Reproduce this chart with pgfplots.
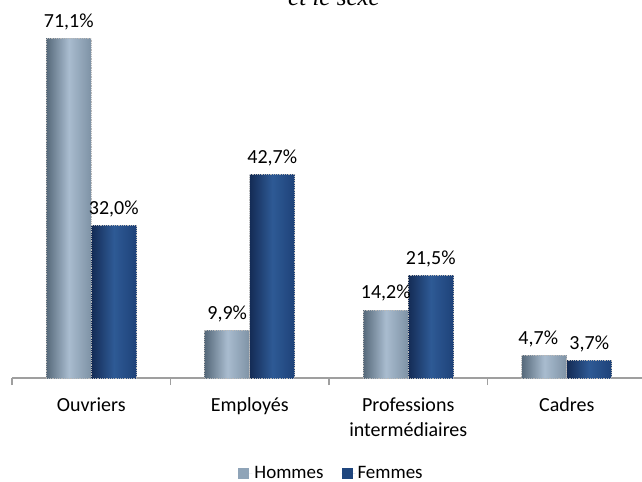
\documentclass[border=0pt]{standalone}
\usepackage{fontspec}
\setmainfont{Carlito}
\newfontfamily\titlefont{Liberation Serif}
\usepackage{pgfplots}
\pgfplotsset{compat=1.18}
\definecolor{hmA}{HTML}{56697A}
\definecolor{hmB}{HTML}{A9BCCF}
\definecolor{hmC}{HTML}{7E92A5}
\definecolor{hmL}{HTML}{8FA4B8}
\definecolor{fmA}{HTML}{142B55}
\definecolor{fmB}{HTML}{2E5A95}
\definecolor{fmC}{HTML}{1E4279}
\definecolor{fmL}{HTML}{1F467E}
\pgfplotsset{
  hom/.style={forget plot, ybar, bar shift=0pt, left color=hmA, right color=hmC, middle color=hmB, draw=gray!55, densely dotted, line width=0.8bp},
  fem/.style={forget plot, ybar, bar shift=0pt, left color=fmA, right color=fmC, middle color=fmB, draw=gray!55, densely dotted, line width=0.8bp},
}
\begin{document}
\begin{tikzpicture}[font=\fontsize{20bp}{25bp}\selectfont]
\begin{axis}[
  at={(12bp,-378bp)}, anchor=south west,
  scale only axis, width=634bp, height=381.6bp,
  xmin=-0.5, xmax=3.5, ymin=0, ymax=80,
  axis y line=none, axis x line*=bottom,
  axis line style={draw=gray!75, line width=1.6bp},
  bar width=45bp,
  xtick={-0.5,0.5,1.5,2.5,3.5}, xticklabels={},
  tick align=outside, major tick length=7bp,
  xtick style={draw=gray!75, line width=1.2bp},
  extra x ticks={0,1,2,3},
  extra x tick labels={Ouvriers,Employés,{Professions\\intermédiaires},Cadres},
  extra x tick style={major tick length=0pt, xtick style={draw=none},
    xticklabel style={align=center, yshift=-16bp, font=\fontsize{20bp}{25bp}\selectfont}},
  nodes near coords={\pgfmathprintnumber[fixed,fixed zerofill,precision=1,use comma,assume math mode=true]{\pgfplotspointmeta}\%},
  every node near coord/.append style={font=\fontsize{20bp}{24bp}\selectfont, yshift=5bp, text=black},
  legend style={at={(0.504,0)}, anchor=center, yshift=-95bp, draw=none, fill=none,
    legend columns=2, /tikz/every even column/.append style={column sep=16bp},
    font=\fontsize{19bp}{23bp}\selectfont},
  legend image code/.code={\fill[#1] (0bp,-5.5bp) rectangle (11bp,5.5bp); \path (0bp,0bp) -- (14bp,0bp);},
]
\addlegendimage{fill=hmL, draw=none}
\addlegendentry{Hommes}
\addlegendimage{fill=fmL, draw=none}
\addlegendentry{Femmes}
% Hommes
\addplot[hom] coordinates {(-0.142,71.1)};
\addplot[hom] coordinates {(0.858,9.9)};
\addplot[hom] coordinates {(1.858,14.2)};
\addplot[hom, every node near coord/.append style={xshift=-6bp}] coordinates {(2.858,4.7)};
% Femmes
\addplot[fem] coordinates {(0.142,32.0)};
\addplot[fem] coordinates {(1.142,42.7)};
\addplot[fem] coordinates {(2.142,21.5)};
\addplot[fem] coordinates {(3.142,3.7)};
\end{axis}
\node[anchor=base, font=\titlefont\itshape\fontsize{25bp}{30bp}\selectfont] at (334bp,-5bp) {et le sexe};
\pgfresetboundingbox
\path (0,0) rectangle (642bp,-482bp);
\end{tikzpicture}
\end{document}
